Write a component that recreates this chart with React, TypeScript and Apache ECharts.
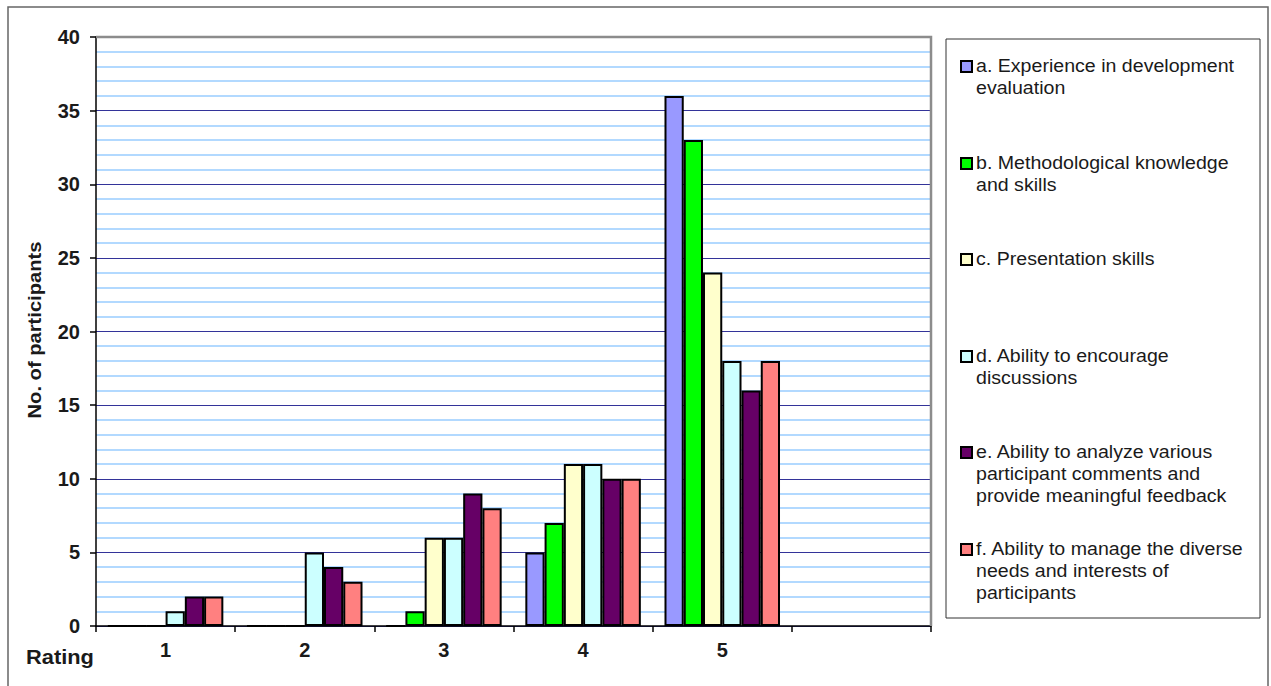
import React, { useEffect, useRef } from "react";
import * as echarts from "echarts";

// Rating scale (the trailing empty slot leaves room on the right of the plot)
const ratings = ["1", "2", "3", "4", "5", ""];

const seriesNames = [
  "a. Experience in development evaluation",
  "b. Methodological knowledge and skills",
  "c. Presentation skills",
  "d. Ability to encourage discussions",
  "e. Ability to analyze various participant comments and provide meaningful feedback",
  "f. Ability to manage the diverse needs and interests of participants",
];

// Wrapped legend text, one entry per series
const legendLines = [
  ["a. Experience in development", "evaluation"],
  ["b. Methodological knowledge", "and skills"],
  ["c. Presentation skills"],
  ["d. Ability to encourage", "discussions"],
  ["e. Ability to analyze various", "participant comments and", "provide meaningful feedback"],
  ["f. Ability to manage the diverse", "needs and interests of", "participants"],
];

const seriesColors = ["#9999FF", "#00FF00", "#FFFFCC", "#CCFFFF", "#660066", "#FF8080"];

// Number of participants per rating
const experience = [0, 0, 0, 5, 36, null];
const methodology = [0, 0, 1, 7, 33, null];
const presentation = [0, 0, 6, 11, 24, null];
const discussion = [1, 5, 6, 11, 18, null];
const feedback = [2, 4, 9, 10, 16, null];
const diverseNeeds = [2, 3, 8, 10, 18, null];

const allValues = [experience, methodology, presentation, discussion, feedback, diverseNeeds];

const yTicks = { min: 0, max: 40, interval: 5 };

export default function App() {
  const ref = useRef<HTMLDivElement>(null);

  useEffect(() => {
    if (!ref.current) return;
    const chart = echarts.init(ref.current, null, { renderer: "svg" });

    const font = "'Liberation Sans', Arial, sans-serif";
    const gridLeft = 96;
    const gridTop = 37;
    const gridWidth = 835;
    const gridHeight = 589;

    const legendX = 946;
    const legendY = 39;
    const legendItemTops = [57, 154, 250, 347, 443, 540];
    const lineH = 22;

    const legendGraphics: any[] = [
      {
        type: "rect",
        shape: { x: legendX, y: legendY, width: 314, height: 579 },
        style: { fill: "#fff", stroke: "#333", lineWidth: 1 },
        z: 10,
      },
    ];
    legendLines.forEach((lines, i) => {
      const top = legendItemTops[i];
      legendGraphics.push({
        type: "rect",
        shape: { x: 961, y: top + 4, width: 11, height: 11 },
        style: { fill: seriesColors[i], stroke: "#000", lineWidth: 2 },
        z: 11,
      });
      lines.forEach((ln, j) => {
        legendGraphics.push({
          type: "text",
          x: 976,
          y: top + j * lineH,
          scaleX: 1.12,
          style: {
            text: ln,
            font: `17.5px ${font}`,
            fill: "#1a1a1a",
            textVerticalAlign: "top",
          },
          z: 11,
        });
      });
    });

    chart.setOption({
      animation: false,
      backgroundColor: "#fff",
      grid: { left: gridLeft, top: gridTop, width: gridWidth, height: gridHeight },
      xAxis: {
        type: "category",
        data: ratings,
        axisLine: { lineStyle: { color: "#000", width: 1.5 } },
        axisTick: { show: true, length: 6, lineStyle: { color: "#000", width: 1.5 } },
        axisLabel: {
          fontFamily: font,
          fontWeight: "bold",
          fontSize: 20,
          color: "#1a1a1a",
          margin: 14,
        },
      },
      yAxis: {
        type: "value",
        min: yTicks.min,
        max: yTicks.max,
        interval: yTicks.interval,
        axisLine: { show: true, lineStyle: { color: "#000", width: 1.5 } },
        axisTick: { show: true, length: 6, lineStyle: { color: "#000", width: 1.5 } },
        axisLabel: {
          fontFamily: font,
          fontWeight: "bold",
          fontSize: 20,
          color: "#1a1a1a",
          margin: 16,
        },
        splitLine: { show: true, lineStyle: { color: "#333399", width: 1 } },
        minorTick: { show: false, splitNumber: 5 },
        minorSplitLine: { show: true, lineStyle: { color: "#99CCFF", width: 1.5 } },
      },
      series: allValues.map((vals, i) => ({
        name: seriesNames[i],
        type: "bar",
        data: vals,
        barGap: "0%",
        barCategoryGap: "17%",
        itemStyle: { color: seriesColors[i], borderColor: "#000", borderWidth: 2 },
      })),
      graphic: [
        // outer frame
        {
          type: "rect",
          shape: { x: 8, y: 7, width: 1260, height: 700 },
          style: { fill: "none", stroke: "#666", lineWidth: 1.5 },
          z: 1,
        },
        // plot area top and right edges
        {
          type: "polyline",
          shape: {
            points: [
              [gridLeft, gridTop],
              [gridLeft + gridWidth, gridTop],
              [gridLeft + gridWidth, gridTop + gridHeight],
            ],
          },
          style: { fill: "none", stroke: "#8c8c8c", lineWidth: 2.5 },
          z: 5,
        },
        // y-axis title
        {
          type: "text",
          x: 35,
          y: 330,
          rotation: Math.PI / 2,
          scaleX: 1.12,
          style: {
            text: "No. of participants",
            font: `bold 18px ${font}`,
            fill: "#1a1a1a",
            textAlign: "center",
            textVerticalAlign: "middle",
          },
        },
        // x-axis title
        {
          type: "text",
          x: 60,
          y: 657,
          scaleX: 1.12,
          style: {
            text: "Rating",
            font: `bold 19.5px ${font}`,
            fill: "#1a1a1a",
            textAlign: "center",
            textVerticalAlign: "middle",
          },
        },
        ...legendGraphics,
      ],
    });

    return () => chart.dispose();
  }, []);

  return (
    <div
      ref={ref}
      style={{ position: "absolute", left: 0, top: 0, width: 1271, height: 686 }}
    />
  );
}
